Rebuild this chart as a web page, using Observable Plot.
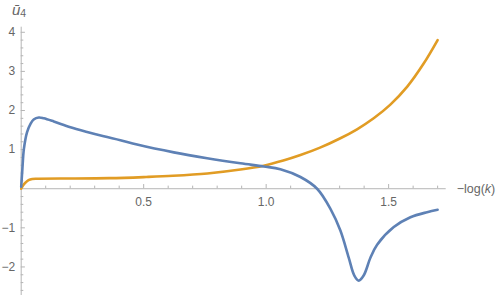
<!DOCTYPE html>
<html><head><meta charset="utf-8">
<script src="https://cdn.jsdelivr.net/npm/d3@7"></script>
<script src="https://cdn.jsdelivr.net/npm/@observablehq/plot@0.6"></script>
<style>html,body{margin:0;padding:0;background:#fff} svg{display:block}</style>
</head><body><div id="chart"></div>
<script>
// ---- data ----
const blueX = [0, 0.005, 0.011, 0.024, 0.038, 0.051, 0.072, 0.092, 0.133, 0.201, 0.269, 0.337, 0.405, 0.473, 0.623, 0.759, 0.895, 0.99, 1.058, 1.14, 1.208, 1.263, 1.303, 1.337, 1.36, 1.378, 1.398, 1.426, 1.453, 1.521, 1.589, 1.657, 1.70];
const blueY = [0.05, 0.52, 1.02, 1.45, 1.66, 1.77, 1.82, 1.80, 1.72, 1.57, 1.45, 1.34, 1.24, 1.13, 0.93, 0.78, 0.65, 0.57, 0.50, 0.30, 0.0, -0.52, -1.07, -1.76, -2.22, -2.35, -2.22, -1.76, -1.43, -0.98, -0.73, -0.60, -0.54];
const orangeX = [0, 0.008, 0.018, 0.03, 0.045, 0.07, 0.16, 0.36, 0.51, 0.62, 0.76, 0.895, 0.99, 1.07, 1.14, 1.22, 1.303, 1.371, 1.439, 1.507, 1.576, 1.643, 1.70];
const orangeY = [0, 0.09, 0.16, 0.22, 0.25, 0.255, 0.26, 0.27, 0.30, 0.33, 0.39, 0.49, 0.59, 0.72, 0.86, 1.05, 1.29, 1.52, 1.80, 2.15, 2.61, 3.20, 3.80];
const xTickLabels = [0.5, 1.0, 1.5];
const xMinorTicks = [0.1, 0.2, 0.3, 0.4, 0.6, 0.7, 0.8, 0.9, 1.1, 1.2, 1.3, 1.4, 1.6, 1.7];
const yTickLabels = [-2, -1, 1, 2, 3, 4];
const yMinorTicks = [-2.6, -2.4, -2.2, -1.8, -1.6, -1.4, -1.2, -0.8, -0.6, -0.4, -0.2, 0.2, 0.4, 0.6, 0.8, 1.2, 1.4, 1.6, 1.8, 2.2, 2.4, 2.6, 2.8, 3.2, 3.4, 3.6, 3.8];
const xLabel = "log";
const yLabel = "ū";

// ---- layout ----
const W = 500, H = 296;
const mL = 20.7, mR = 54.3, mT = 26.7, mB = 1;
const xDom = [0, 1.735], yDom = [-2.73, 4.13];
const xUnit = (W - mL - mR) / (xDom[1] - xDom[0]);
const yUnit = (H - mT - mB) / (yDom[1] - yDom[0]);
const axisColor = "#b5b5b5";
const labelColor = "#666";
const blue = "#5E81B5", orange = "#E19C24";
const FONT = "'Liberation Sans', Arial, sans-serif";

const blueData = blueX.map((x, i) => ({x, y: blueY[i]}));
const orangeData = orangeX.map((x, i) => ({x, y: orangeY[i]}));

const chart = Plot.plot({
  width: W, height: H,
  marginLeft: mL, marginRight: mR, marginTop: mT, marginBottom: mB,
  x: {domain: xDom, axis: null},
  y: {domain: yDom, axis: null},
  style: {fontFamily: FONT, fontSize: "12px", background: "white", overflow: "visible"},
  marks: [
    Plot.ruleY([0], {stroke: axisColor, strokeWidth: 1}),
    Plot.ruleX([0], {stroke: axisColor, strokeWidth: 1}),
    Plot.ruleX(xMinorTicks, {x: d => d, y1: 0, y2: 2.6 / yUnit, stroke: axisColor}),
    Plot.ruleX(xTickLabels, {x: d => d, y1: 0, y2: 4.2 / yUnit, stroke: axisColor}),
    Plot.ruleY(yMinorTicks, {y: d => d, x1: 0, x2: 2.6 / xUnit, stroke: axisColor}),
    Plot.ruleY(yTickLabels, {y: d => d, x1: 0, x2: 4.2 / xUnit, stroke: axisColor}),
    Plot.text(xTickLabels, {x: d => d, y: 0, dy: 13, text: d => d.toFixed(1), fill: labelColor, fontSize: 12}),
    Plot.text(yTickLabels, {x: 0, y: d => d, dx: -6, textAnchor: "end", text: d => d < 0 ? "\u2212" + Math.abs(d) : String(d), fill: labelColor, fontSize: 12}),
    Plot.line(orangeData, {x: "x", y: "y", stroke: orange, strokeWidth: 2.6, curve: "catmull-rom"}),
    Plot.line(blueData, {x: "x", y: "y", stroke: blue, strokeWidth: 2.6, curve: "catmull-rom"})
  ]
});
document.getElementById("chart").appendChild(chart);

// axis labels with italic parts
const svg = d3.select(chart);
const sx = chart.scale("x"), sy = chart.scale("y");
const xl = svg.append("text")
  .attr("x", sx.apply(xDom[1]) + 11).attr("y", sy.apply(0) + 4.5)
  .attr("text-anchor", "start")
  .attr("fill", labelColor).attr("font-size", 12.5)
  .attr("font-family", FONT);
xl.append("tspan").text("\u2212" + xLabel + "(");
xl.append("tspan").attr("font-style", "italic").text("k");
xl.append("tspan").text(")");

const yl = svg.append("text")
  .attr("x", 12).attr("y", 15)
  .attr("text-anchor", "start")
  .attr("fill", labelColor).attr("font-size", 15)
  .attr("font-family", FONT);
yl.append("tspan").attr("font-style", "italic").text(yLabel);
yl.append("tspan").attr("font-size", 10.5).attr("dy", 2).text("4");
</script>
</body></html>
